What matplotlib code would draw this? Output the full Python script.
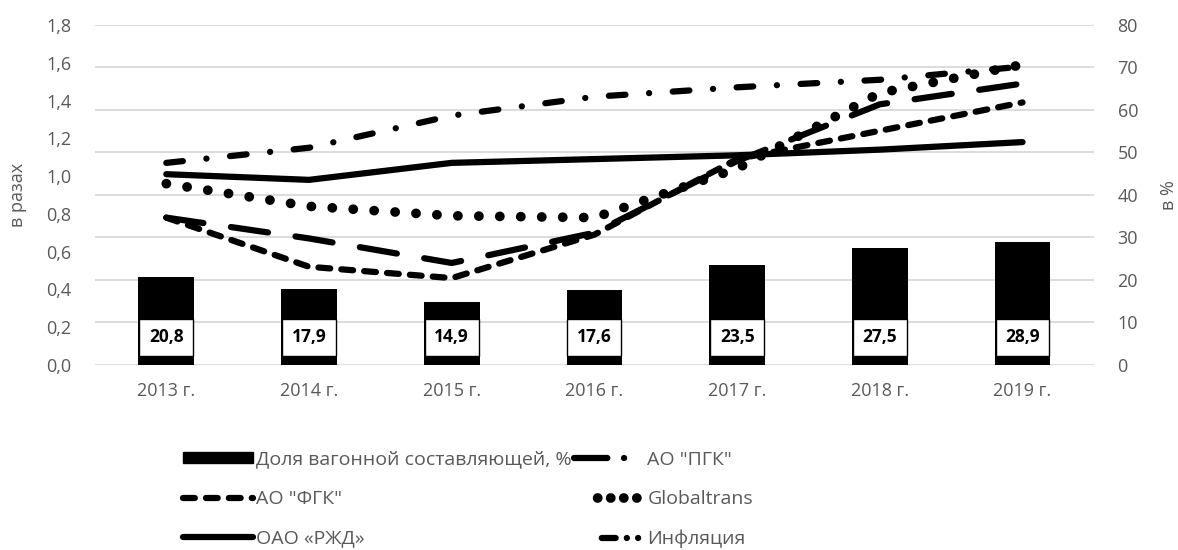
import matplotlib
matplotlib.use('Agg')
import matplotlib.pyplot as plt
from matplotlib.lines import Line2D
from matplotlib.patches import Patch

years = ['2013 г.', '2014 г.', '2015 г.', '2016 г.', '2017 г.', '2018 г.', '2019 г.']

# доля вагонной составляющей, % (правая ось)
dolya = [20.8, 17.9, 14.9, 17.6, 23.5, 27.5, 28.9]

# индексы, в разах (левая ось)
pgk = [0.78, 0.67, 0.54, 0.70, 1.08, 1.38, 1.49]
fgk = [0.78, 0.52, 0.46, 0.69, 1.09, 1.24, 1.39]
globaltrans = [0.96, 0.84, 0.79, 0.78, 1.04, 1.44, 1.59]
rzd = [1.01, 0.98, 1.07, 1.09, 1.11, 1.14, 1.18]
inflation = [1.07, 1.15, 1.32, 1.42, 1.47, 1.51, 1.58]

plt.rcParams['font.family'] = ['Open Sans', 'DejaVu Sans']
plt.rcParams['lines.scale_dashes'] = False

grey = '#595959'
x = list(range(len(years)))

fig = plt.figure(figsize=(11.78, 5.5), dpi=100)
ax = fig.add_axes([0.0806, 0.3364, 0.848, 0.6182])
ax2 = ax.twinx()

# bars on the percent axis (drawn underneath)
ax.bar(x, dolya, width=0.39, color='black', zorder=2)
ax.set_ylim(0, 80)
ax.set_yticks(range(0, 81, 10))
ax.yaxis.tick_right()
ax.yaxis.set_label_position('right')
ax.set_ylabel('в %', color=grey, fontsize=13, labelpad=16)
ax.set_axisbelow(True)
ax.grid(axis='y', color='#d9d9d9', lw=1.3)
ax.set_xlim(-0.5, len(years) - 0.5)
ax.set_xticks(x)
ax.set_xticklabels(years)

for i, v in enumerate(dolya):
    ax.annotate(f'{v:.1f}'.replace('.', ','), (i, 0), xytext=(0, 20),
                textcoords='offset points', ha='center', va='center',
                fontsize=12.5, fontweight='bold', color='black', zorder=3,
                bbox=dict(boxstyle='square,pad=0.55', fc='white', ec='black', lw=1))

# lines on the "в разах" axis
lw = 4.5
ax2.plot(x, pgk, color='black', lw=lw, dashes=(27, 20), dash_capstyle='round')
ax2.plot(x, fgk, color='black', lw=lw, dashes=(8.5, 8), dash_capstyle='round')
ax2.plot(x, globaltrans, color='black', lw=7, dashes=(0.1, 15), dash_capstyle='round')
ax2.plot(x, rzd, color='black', lw=lw, solid_capstyle='round')
ax2.plot(x, inflation, color='black', lw=lw, dashes=(12, 17, 0.1, 17), dash_capstyle='round')
ax2.set_ylim(0, 1.8)
ax2.set_yticks([i * 0.2 for i in range(10)])
ax2.set_yticklabels([f'{i * 0.2:.1f}'.replace('.', ',') for i in range(10)])
ax2.yaxis.tick_left()
ax2.yaxis.set_label_position('left')
ax2.set_ylabel('в разах', color=grey, fontsize=13, labelpad=14)

for a in (ax, ax2):
    for s in a.spines.values():
        s.set_visible(False)
    a.tick_params(length=0, labelsize=13, colors=grey, pad=17)
ax.tick_params(axis='x', pad=12)

# legend proxies (Excel draws slightly different samples in the legend)
h_bar = Patch(fc='black', ec='black')
h_pgk = Line2D([], [], color='black', lw=lw, dashes=(24, 12, 0.1, 30), dash_capstyle='round')
h_fgk = Line2D([], [], color='black', lw=lw, dashes=(8.5, 8), dash_capstyle='round')
h_gt = Line2D([], [], color='black', lw=7,
              ls=(41.3, (0.1, 9.3, 0.1, 9.3, 0.1, 9.3, 0.1, 30)), dash_capstyle='round')
h_rzd = Line2D([], [], color='black', lw=lw, solid_capstyle='round')
h_inf = Line2D([], [], color='black', lw=lw, ls=(26.2, (10, 8, 0.1, 8, 0.1, 20)),
               dash_capstyle='round')

handles = [h_bar, h_fgk, h_rzd, h_pgk, h_gt, h_inf]
labels = ['Доля вагонной составляющей, %', 'АО "ФГК"', 'ОАО «РЖД»',
          'АО "ПГК"', 'Globaltrans', 'Инфляция']
leg = fig.legend(handles, labels, ncol=2, loc='upper left',
                 bbox_to_anchor=(0.147, 1 - 441 / 550), frameon=False,
                 fontsize=14, handlelength=3.6, handleheight=0.5,
                 handletextpad=0.15, columnspacing=0.15, labelspacing=1.1,
                 borderpad=0)
for t in leg.get_texts():
    t.set_color(grey)

fig.savefig('out.png', dpi=100)
